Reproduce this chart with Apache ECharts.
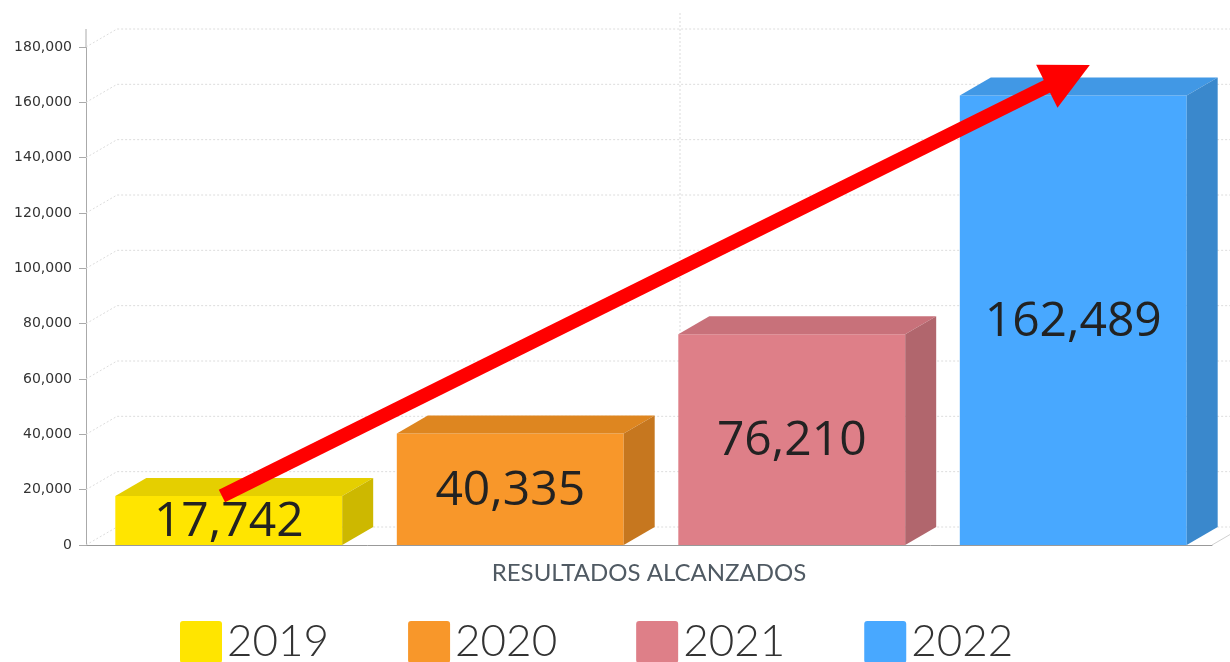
<!DOCTYPE html>
<html>
<head>
<meta charset="utf-8">
<title>Resultados alcanzados</title>
<script src="https://cdn.jsdelivr.net/npm/echarts@6/dist/echarts.min.js"></script>
<style>
  html, body { margin: 0; padding: 0; background: #fff; }
  #chart { width: 1230px; height: 662px; }
</style>
</head>
<body>
<div id="chart"></div>
<script>
const categories = ['RESULTADOS ALCANZADOS']
const years = ['2019', '2020', '2021', '2022']
const values = [17742, 40335, 76210, 162489]
const yTicks = [0, 20000, 40000, 60000, 80000, 100000, 120000, 140000, 160000, 180000]

// colours per bar: front, top, side
const palette = {
  front: ['#FFE500', '#F8972A', '#DE7F88', '#48A8FF'],
  top: ['#E5CF00', '#DE8620', '#C8717A', '#4198E5'],
  side: ['#CDB800', '#C6771F', '#B1666D', '#3A88CC'],
}

// pseudo 3d depth
const DX = 31
const DY = -18

const fmt = v => v.toLocaleString('en-US')

function barBox(coordSys, i) {
  const step = coordSys.width / years.length
  const w = step * 0.806
  const left = coordSys.x + i * step + (step - w) / 2 + 2
  return { left, w }
}

function renderWall(params, api) {
  const cs = params.coordSys
  const p = api.coord([0, api.value(1)])
  const x0 = cs.x
  const dotted = { stroke: '#dcdcdc', lineWidth: 1, lineDash: [2, 2], fill: null }
  const children = [{
    type: 'polyline',
    shape: { points: [[x0, p[1]], [x0 + DX, p[1] + DY], [x0 + cs.width + DX, p[1] + DY]] },
    style: dotted,
  }]
  if (params.dataIndex === 0) {
    const cx = api.coord([0, 0])[0]
    children.push({
      type: 'line',
      shape: { x1: cx + DX, y1: p[1] + DY, x2: cx + DX, y2: cs.y + 2 * DY },
      style: dotted,
    })
    children.push({
      type: 'line',
      shape: { x1: x0, y1: cs.y, x2: x0, y2: cs.y + DY },
      style: { stroke: '#aaa', lineWidth: 1 },
    })
    children.push({
      type: 'line',
      shape: { x1: x0 + cs.width, y1: p[1], x2: x0 + cs.width + DX, y2: p[1] + DY },
      style: { stroke: '#d0d0d0', lineWidth: 1 },
    })
  }
  return { type: 'group', children }
}

function renderBar(i) {
  return function (params, api) {
    const cs = params.coordSys
    const { left, w } = barBox(cs, i)
    const yTop = api.coord([0, api.value(1)])[1]
    const yBase = api.coord([0, 0])[1]
    return {
      type: 'group',
      children: [
        {
          type: 'rect',
          shape: { x: left, y: yTop, width: w, height: yBase - yTop },
          style: { fill: palette.front[i] },
        },
        {
          type: 'polygon',
          shape: { points: [[left, yTop], [left + DX, yTop + DY], [left + w + DX, yTop + DY], [left + w, yTop]] },
          style: { fill: palette.top[i] },
        },
        {
          type: 'polygon',
          shape: { points: [[left + w, yTop], [left + w + DX, yTop + DY], [left + w + DX, yBase + DY], [left + w, yBase]] },
          style: { fill: palette.side[i] },
        },
        {
          type: 'text',
          style: {
            text: fmt(api.value(1)),
            x: left + w / 2,
            y: (yTop + yBase) / 2 + 2,
            textAlign: 'center',
            textVerticalAlign: 'middle',
            fontFamily: 'Open Sans',
            fontSize: 48,
            fill: '#222',
          },
        },
      ],
    }
  }
}

// arrow runs from the 2019 bar top to above the 2022 bar
function renderArrow(params, api) {
  const cs = params.coordSys
  const a = barBox(cs, 0)
  const b = barBox(cs, 3)
  const x1 = a.left + a.w * 0.47
  const y1 = api.coord([0, values[0]])[1]
  const x2 = b.left + b.w * 0.573
  const y2 = api.coord([0, 173500])[1]
  const ang = Math.atan2(y2 - y1, x2 - x1)
  const headLen = 48
  const headHalf = 24
  const bx = x2 - headLen * Math.cos(ang)
  const by = y2 - headLen * Math.sin(ang)
  const nx = -Math.sin(ang)
  const ny = Math.cos(ang)
  return {
    type: 'group',
    children: [
      {
        type: 'line',
        shape: { x1, y1, x2: bx + 2 * Math.cos(ang), y2: by + 2 * Math.sin(ang) },
        style: { stroke: '#FF0000', lineWidth: 14, lineCap: 'butt' },
      },
      {
        type: 'polygon',
        shape: { points: [[x2, y2], [bx + nx * headHalf, by + ny * headHalf], [bx - nx * headHalf, by - ny * headHalf]] },
        style: { fill: '#FF0000' },
      },
    ],
  }
}

const chart = echarts.init(document.getElementById('chart'))

const series = [{
  type: 'custom',
  silent: true,
  z: 1,
  clip: false,
  renderItem: renderWall,
  encode: { x: 0, y: 1 },
  data: yTicks.map(v => [0, v]),
}]
years.forEach((y, i) => {
  series.push({
    name: y,
    type: 'custom',
    z: 2,
    clip: false,
    itemStyle: { color: palette.front[i] },
    renderItem: renderBar(i),
    encode: { x: 0, y: 1 },
    data: [[0, values[i]]],
  })
})
series.push({
  type: 'custom',
  silent: true,
  z: 3,
  clip: false,
  renderItem: renderArrow,
  encode: { x: 0, y: 1 },
  data: [[0, values[0]]],
})

chart.setOption({
  animation: false,
  grid: { left: 86, right: 18, top: 47, bottom: 117, containLabel: false },
  legend: {
    data: years,
    left: 175,
    top: 615,
    icon: 'path://M3,0 L39,0 Q42,0 42,3 L42,39 Q42,42 39,42 L3,42 Q0,42 0,39 L0,3 Q0,0 3,0 Z',
    itemWidth: 42,
    itemHeight: 42,
    itemGap: 79,
    textStyle: { fontFamily: 'Lato', fontWeight: 300, fontSize: 44, color: '#333' },
  },
  xAxis: {
    type: 'category',
    data: categories,
    axisLine: { lineStyle: { color: '#999' } },
    axisTick: { alignWithLabel: true, length: 7, lineStyle: { color: '#999' } },
    axisLabel: { margin: 16, fontFamily: 'Lato', fontSize: 24, color: '#505a63' },
    splitLine: { show: false },
  },
  yAxis: {
    type: 'value',
    min: 0,
    max: 180000,
    interval: 20000,
    axisLine: { show: true, lineStyle: { color: '#aaa' } },
    axisTick: { show: true, length: 7, lineStyle: { color: '#aaa' } },
    axisLabel: { margin: 14, fontFamily: 'DejaVu Sans', fontSize: 14, color: '#333', formatter: fmt },
    splitLine: { show: false },
  },
  series,
})
</script>
</body>
</html>
